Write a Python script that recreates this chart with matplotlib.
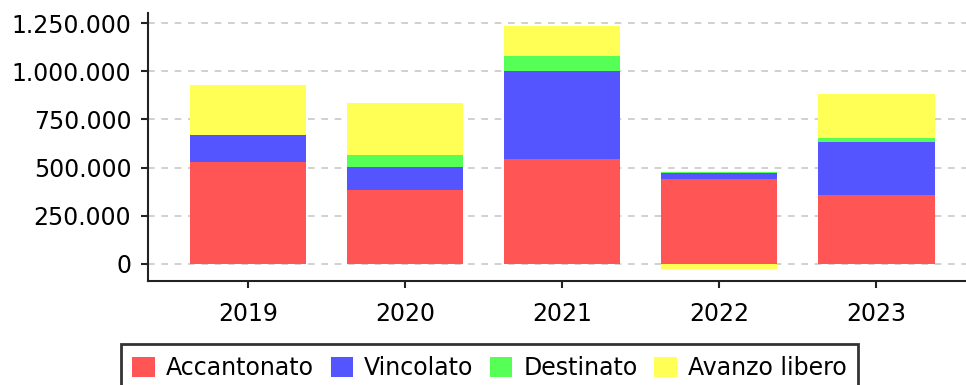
import matplotlib
matplotlib.use("Agg")
import matplotlib.pyplot as plt
import numpy as np
from matplotlib.ticker import FuncFormatter

years = ["2019", "2020", "2021", "2022", "2023"]
accantonato = [529000, 383000, 543000, 439000, 356000]
vincolato = [139000, 119000, 458000, 31000, 276000]
destinato = [0, 62000, 79000, 6000, 21000]
avanzo = [259000, 271000, 157000, -30000, 229000]

series = [("Accantonato", accantonato, "#ff5555"),
          ("Vincolato", vincolato, "#5555ff"),
          ("Destinato", destinato, "#55ff55"),
          ("Avanzo libero", avanzo, "#ffff55")]

fig = plt.figure(figsize=(9.66, 3.85), dpi=100)
ax = fig.add_axes([148/966, 1 - 281/385, 1 - 148/966, (281 - 13.3)/385])

x = np.arange(len(years))
pos_base = np.zeros(len(years))
neg_base = np.zeros(len(years))
for name, vals, col in series:
    v = np.array(vals, dtype=float)
    bottom = np.where(v >= 0, pos_base, neg_base)
    ax.bar(x, v, 0.74, bottom=bottom, color=col, label=name, zorder=2)
    pos_base += np.where(v >= 0, v, 0)
    neg_base += np.where(v < 0, v, 0)

ax.set_xticks(x)
ax.set_xticklabels(years)
ax.set_xlim(-0.635, 4.57)
ax.set_ylim(-90000, 1302000)
ax.set_yticks([0, 250000, 500000, 750000, 1000000, 1250000])
ax.yaxis.set_major_formatter(FuncFormatter(lambda v, p: f"{int(v):,}".replace(",", ".")))
ax.grid(axis="y", color="#c8c8c8", linestyle=(0, (4, 4)), linewidth=1.2, zorder=0)
ax.tick_params(labelsize=17, length=5, width=1.5, colors="#222222", labelcolor="black")
ax.tick_params(axis="x", pad=10)
ax.tick_params(axis="y", pad=7)
for s in ["top", "right"]:
    ax.spines[s].set_visible(False)
for s in ["left", "bottom"]:
    ax.spines[s].set_linewidth(1.5)
    ax.spines[s].set_color("#222222")

leg = fig.legend(loc="upper center", bbox_to_anchor=(489.5/966, 1 - 344/385), ncol=4,
                 fontsize=17, frameon=True, fancybox=False, edgecolor="black",
                 handlelength=0.95, handleheight=0.95, handletextpad=0.47,
                 columnspacing=0.7, borderpad=0.5, borderaxespad=0)
leg.get_frame().set_linewidth(2)

fig.savefig("out.png", dpi=100)
